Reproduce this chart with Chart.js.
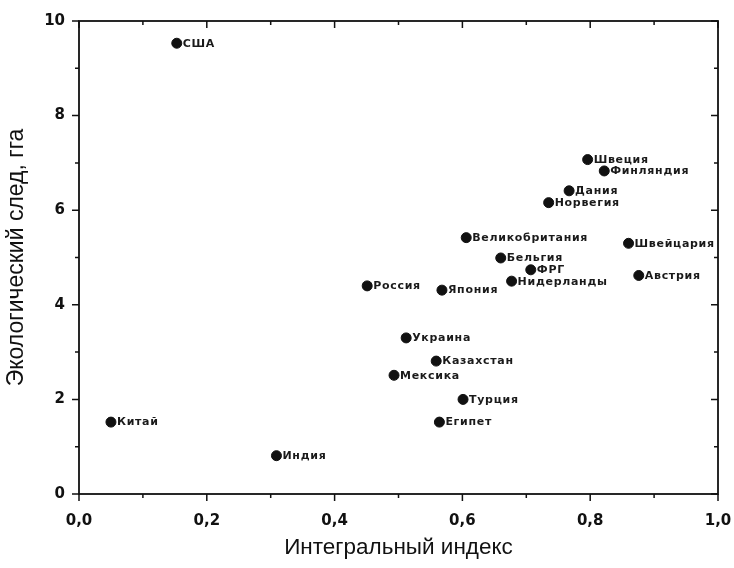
<!DOCTYPE html>
<html>
<head>
<meta charset="utf-8">
<script src="https://cdn.jsdelivr.net/npm/chart.js@4"></script>
<style>
  html, body { margin: 0; padding: 0; background: #fff; }
  #wrap { width: 734px; height: 568px; }
</style>
</head>
<body>
<div id="wrap"><canvas id="myChart" width="734" height="568"></canvas></div>
<script>
// данные: страна, интегральный индекс, экологический след (гга)
const countries = ['США', 'Китай', 'Индия', 'Россия', 'Япония', 'Украина', 'Казахстан', 'Мексика',
  'Турция', 'Египет', 'Швеция', 'Финляндия', 'Дания', 'Норвегия', 'Великобритания', 'Швейцария',
  'Бельгия', 'ФРГ', 'Нидерланды', 'Австрия'];
const indexValues = [0.153, 0.050, 0.309, 0.451, 0.568, 0.512, 0.559, 0.493,
  0.601, 0.564, 0.796, 0.822, 0.767, 0.735, 0.606, 0.860,
  0.660, 0.707, 0.677, 0.876];
const footprint = [9.53, 1.52, 0.81, 4.40, 4.31, 3.30, 2.81, 2.51,
  2.00, 1.52, 7.07, 6.83, 6.41, 6.16, 5.42, 5.30,
  4.99, 4.74, 4.50, 4.62];
const xTicks = ['0,0', '0,2', '0,4', '0,6', '0,8', '1,0'];
const yTicks = ['0', '2', '4', '6', '8', '10'];

const points = indexValues.map((v, i) => ({ x: v, y: footprint[i] }));
const WIDE = "'DejaVu Sans', sans-serif";
const ARIAL = "'Liberation Sans', Arial, sans-serif";

// подписи стран справа от точек
const labelPlugin = {
  id: 'labels',
  afterDatasetsDraw(chart) {
    const ctx = chart.ctx;
    const meta = chart.getDatasetMeta(0);
    ctx.save();
    ctx.fillStyle = '#1a1a1a';
    ctx.font = 'bold 11px ' + WIDE;
    ctx.letterSpacing = '0.7px';
    ctx.textBaseline = 'middle';
    ctx.textAlign = 'left';
    meta.data.forEach((pt, i) => {
      ctx.fillText(countries[i], pt.x + 6, pt.y + 0.5);
    });
    ctx.restore();
  }
};

// рамка и засечки (снизу/слева наружу, сверху/справа внутрь)
const framePlugin = {
  id: 'frame',
  afterDraw(chart) {
    const { ctx, chartArea: a } = chart;
    const xs = chart.scales.x, ys = chart.scales.y;
    ctx.save();
    ctx.strokeStyle = '#111';
    ctx.lineWidth = 1.8;
    ctx.strokeRect(a.left, a.top, a.right - a.left, a.bottom - a.top);
    ctx.lineWidth = 1.5;
    ctx.beginPath();
    for (let k = 0; k <= 10; k++) {
      const px = xs.getPixelForValue(k / 10);
      const len = k % 2 === 0 ? 7 : 4;
      ctx.moveTo(px, a.bottom); ctx.lineTo(px, a.bottom + len);
      ctx.moveTo(px, a.top); ctx.lineTo(px, a.top + len);
    }
    for (let k = 0; k <= 10; k++) {
      const py = ys.getPixelForValue(k);
      const len = k % 2 === 0 ? 7 : 4;
      ctx.moveTo(a.left, py); ctx.lineTo(a.left - len, py);
      ctx.moveTo(a.right, py); ctx.lineTo(a.right - len, py);
    }
    ctx.stroke();
    ctx.restore();
  }
};

new Chart('myChart', {
  type: 'scatter',
  data: {
    datasets: [{
      data: points,
      backgroundColor: '#111',
      borderColor: '#111',
      pointRadius: 5,
      pointHoverRadius: 5
    }]
  },
  options: {
    responsive: false,
    animation: false,
    events: [],
    layout: { autoPadding: false, padding: { top: 21, right: 16, left: 0, bottom: 0 } },
    plugins: { legend: { display: false }, tooltip: { enabled: false } },
    scales: {
      x: {
        min: 0, max: 1,
        grid: { display: false },
        border: { display: false },
        afterBuildTicks: s => { s.ticks = xTicks.map((t, i) => ({ value: i * 0.2 })); },
        ticks: {
          color: '#111', padding: 10,
          font: { family: WIDE, size: 15, weight: 'bold' },
          callback: (v, i) => xTicks[i]
        },
        title: {
          display: true, text: 'Интегральный индекс', color: '#111',
          font: { family: ARIAL, size: 22.5 }, padding: { top: 0, bottom: 7 }
        },
        afterFit: s => { s.height = 74; s.paddingLeft = 0; s.paddingRight = 0; }
      },
      y: {
        min: 0, max: 10,
        grid: { display: false },
        border: { display: false },
        afterBuildTicks: s => { s.ticks = yTicks.map((t, i) => ({ value: i * 2 })); },
        ticks: {
          color: '#111', padding: 6,
          font: { family: WIDE, size: 15, weight: 'bold' },
          callback: (v, i) => yTicks[i]
        },
        title: {
          display: true, text: 'Экологический след, гга', color: '#111',
          font: { family: ARIAL, size: 23 }, padding: { top: 3, bottom: 0 }
        },
        afterFit: s => { s.width = 79; s.paddingTop = 0; s.paddingBottom = 0; }
      }
    }
  },
  plugins: [labelPlugin, framePlugin]
});
</script>
</body>
</html>
